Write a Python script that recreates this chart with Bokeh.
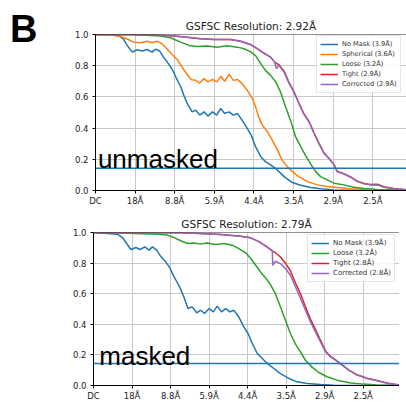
from bokeh.plotting import figure
from bokeh.layouts import column, row
from bokeh.models import FixedTicker, Span, Label, PrintfTickFormatter, Div
from bokeh.embed import file_html
from bokeh.resources import INLINE

# x positions are in "shell tick" units (0 = DC, 1 = 18Å, 2 = 8.8Å, ...)
x_ticks = [0, 1, 2, 3, 4, 5, 6, 7]
x_tick_labels = ["DC", "18Å", "8.8Å", "5.9Å", "4.4Å", "3.5Å", "2.9Å", "2.5Å"]
y_ticks = [0.0, 0.2, 0.4, 0.6, 0.8, 1.0]
threshold = 0.143
panel_letter = "B"

# ---------- top panel (unmasked) ----------
top_title = "GSFSC Resolution: 2.92Å"
top_tag = "unmasked"
top_labels = ["No Mask (3.9Å)", "Spherical (3.6Å)", "Loose (3.2Å)", "Tight (2.9Å)", "Corrected (2.9Å)"]

top_nomask_x = [0, 0.38, 0.59, 0.70, 0.80, 0.93, 1.05, 1.18, 1.30, 1.43, 1.52, 1.62, 1.73, 1.85, 1.96, 2.05,
                2.15, 2.23, 2.33, 2.44, 2.53, 2.63, 2.74, 2.84, 2.95, 3.06, 3.16, 3.26, 3.37, 3.48, 3.58, 3.70,
                3.83, 3.93, 4.04, 4.17, 4.29, 4.42, 4.59, 4.76, 4.97, 5.18, 5.43, 5.68, 6.02, 6.44, 6.86, 7.85]
top_nomask_y = [1.0, 0.998, 0.991, 0.972, 0.93, 0.887, 0.902, 0.894, 0.904, 0.887, 0.906, 0.894, 0.85, 0.81,
                0.765, 0.715, 0.665, 0.61, 0.55, 0.504, 0.515, 0.483, 0.504, 0.477, 0.504, 0.483, 0.526, 0.494,
                0.504, 0.483, 0.494, 0.451, 0.398, 0.355, 0.281, 0.217, 0.185, 0.164, 0.132, 0.089, 0.051,
                0.034, 0.019, 0.011, 0.004, 0.002, 0.0, 0.0]

top_sph_x = [0, 0.38, 0.63, 0.84, 0.97, 1.14, 1.30, 1.43, 1.56, 1.68, 1.81, 1.94, 2.06, 2.19, 2.31, 2.42, 2.53,
             2.63, 2.74, 2.84, 2.95, 3.06, 3.16, 3.26, 3.37, 3.48, 3.59, 3.70, 3.83, 3.96, 4.04, 4.12, 4.21, 4.34,
             4.46, 4.59, 4.71, 4.84, 4.97, 5.13, 5.35, 5.60, 5.85, 6.10, 6.44, 6.86, 7.28, 7.85]
top_sph_y = [1.0, 0.998, 0.987, 0.966, 0.951, 0.947, 0.957, 0.947, 0.957, 0.94, 0.905, 0.87, 0.84, 0.79, 0.745,
             0.71, 0.706, 0.689, 0.717, 0.696, 0.713, 0.696, 0.732, 0.70, 0.745, 0.706, 0.711, 0.685, 0.643, 0.589,
             0.536, 0.472, 0.419, 0.377, 0.323, 0.26, 0.196, 0.153, 0.121, 0.089, 0.057, 0.036, 0.026, 0.019,
             0.011, 0.004, 0.002, 0.0]

top_loose_x = [0, 0.97, 1.64, 1.89, 2.15, 2.36, 2.57, 2.82, 3.07, 3.32, 3.58, 3.75, 3.91, 4.04, 4.17, 4.29,
               4.42, 4.55, 4.67, 4.80, 4.92, 5.05, 5.18, 5.30, 5.43, 5.56, 5.68, 5.85, 6.02, 6.27, 6.52, 6.78,
               7.11, 7.85]
top_loose_y = [1.0, 0.998, 0.991, 0.979, 0.951, 0.93, 0.923, 0.926, 0.919, 0.928, 0.919, 0.909, 0.89, 0.865,
               0.813, 0.77, 0.738, 0.696, 0.632, 0.536, 0.451, 0.345, 0.281, 0.225, 0.17, 0.121, 0.089, 0.068,
               0.047, 0.036, 0.021, 0.013, 0.006, 0.002]

top_corr_x = [0, 1.39, 1.98, 2.31, 2.65, 2.99, 3.41, 3.66, 3.91, 4.08, 4.25, 4.42, 4.52, 4.57, 4.63, 4.76,
              4.88, 5.01, 5.13, 5.26, 5.39, 5.51, 5.64, 5.77, 5.89, 6.02, 6.10, 6.27, 6.44, 6.61, 6.78, 6.94,
              7.11, 7.28, 7.53, 7.85]
top_corr_y = [1.0, 1.0, 0.991, 0.983, 0.972, 0.968, 0.968, 0.957, 0.936, 0.909, 0.88, 0.855, 0.823, 0.781,
              0.802, 0.76, 0.69, 0.63, 0.56, 0.49, 0.44, 0.37, 0.30, 0.238, 0.206, 0.164, 0.121, 0.106, 0.085,
              0.057, 0.043, 0.036, 0.036, 0.021, 0.011, 0.004]
top_tight_x = top_corr_x
top_tight_y = [1.0, 1.0, 0.991, 0.983, 0.972, 0.968, 0.968, 0.957, 0.936, 0.909, 0.88, 0.855, 0.823, 0.815,
               0.806, 0.765, 0.695, 0.633, 0.562, 0.492, 0.442, 0.372, 0.302, 0.24, 0.207, 0.166, 0.123, 0.108,
               0.087, 0.06, 0.045, 0.039, 0.04, 0.024, 0.013, 0.004]

# ---------- bottom panel (masked) ----------
bot_title = "GSFSC Resolution: 2.79Å"
bot_tag = "masked"
bot_labels = ["No Mask (3.9Å)", "Loose (3.2Å)", "Tight (2.8Å)", "Corrected (2.8Å)"]

bot_nomask_x = [0, 0.36, 0.62, 0.75, 0.86, 0.97, 1.10, 1.21, 1.33, 1.44, 1.53, 1.64, 1.74, 1.87, 1.99, 2.07,
                2.18, 2.26, 2.35, 2.45, 2.56, 2.68, 2.78, 2.88, 3.00, 3.11, 3.21, 3.32, 3.43, 3.54, 3.64, 3.77,
                3.90, 4.01, 4.12, 4.25, 4.38, 4.51, 4.68, 4.85, 5.07, 5.28, 5.54, 5.89, 6.23, 7.94]
bot_nomask_y = [1.0, 0.993, 0.989, 0.967, 0.928, 0.889, 0.902, 0.889, 0.906, 0.885, 0.906, 0.885, 0.845, 0.81,
                0.765, 0.72, 0.67, 0.63, 0.575, 0.503, 0.514, 0.475, 0.492, 0.471, 0.503, 0.481, 0.519, 0.481,
                0.503, 0.481, 0.492, 0.449, 0.383, 0.34, 0.275, 0.209, 0.176, 0.144, 0.111, 0.078, 0.046, 0.024,
                0.013, 0.007, 0.002, 0.0]

bot_loose_x = [0, 0.62, 1.05, 1.66, 1.92, 2.09, 2.26, 2.44, 2.61, 2.78, 2.95, 3.17, 3.39, 3.60, 3.77, 3.95,
               4.08, 4.21, 4.34, 4.46, 4.59, 4.72, 4.85, 4.98, 5.11, 5.24, 5.37, 5.50, 5.67, 5.85, 6.06, 6.32,
               6.67, 7.01, 7.36, 7.94]
bot_loose_y = [1.0, 0.998, 0.993, 0.989, 0.983, 0.967, 0.946, 0.928, 0.932, 0.924, 0.932, 0.922, 0.928, 0.917,
               0.895, 0.867, 0.83, 0.786, 0.74, 0.705, 0.66, 0.6, 0.514, 0.427, 0.34, 0.27, 0.22, 0.165, 0.12,
               0.085, 0.057, 0.035, 0.017, 0.009, 0.004, 0.002]

bot_corr_x = [0, 2.26, 2.78, 3.30, 3.82, 4.08, 4.29, 4.51, 4.64, 4.65, 4.72, 4.85, 4.98, 5.11, 5.24, 5.37, 5.50,
              5.63, 5.76, 5.89, 6.02, 6.15, 6.28, 6.45, 6.62, 6.84, 7.10, 7.36, 7.62, 7.94]
bot_corr_y = [1.0, 0.998, 0.993, 0.987, 0.976, 0.965, 0.94, 0.905, 0.88, 0.786, 0.813, 0.797, 0.765, 0.721,
              0.645, 0.57, 0.492, 0.416, 0.351, 0.285, 0.22, 0.187, 0.166, 0.133, 0.10, 0.068, 0.046, 0.031,
              0.015, 0.002]
bot_tight_x = bot_corr_x
bot_tight_y = [1.0, 0.998, 0.993, 0.987, 0.976, 0.965, 0.94, 0.905, 0.88, 0.878, 0.868, 0.84, 0.80, 0.75,
               0.67, 0.60, 0.515, 0.435, 0.365, 0.295, 0.226, 0.19, 0.168, 0.135, 0.102, 0.07, 0.048, 0.033,
               0.017, 0.003]

COLORS = {"nomask": "#1f77b4", "sph": "#ff7f0e", "loose": "#2ca02c", "tight": "#d62728", "corr": "#9467bd"}
FONT = "DejaVu Sans"


def make_fig(width, height, left, top, bottom, xmax, title):
    p = figure(width=width, height=height, x_range=(0, xmax), y_range=(0, 1.0),
               output_backend="svg", toolbar_location=None, title=title,
               min_border_left=left, min_border_right=0, min_border_top=top, min_border_bottom=bottom)
    p.margin = 0
    p.title.align = "center"
    p.title.text_font = FONT
    p.title.text_font_size = "10.5px"
    p.title.text_font_style = "normal"
    p.title.text_color = "#222222"
    p.title.standoff = 5
    p.outline_line_color = None
    p.background_fill_color = "white"
    p.xaxis.ticker = FixedTicker(ticks=x_ticks)
    p.xaxis.major_label_overrides = {t: lab for t, lab in zip(x_ticks, x_tick_labels)}
    p.yaxis.ticker = FixedTicker(ticks=y_ticks)
    p.yaxis.formatter = PrintfTickFormatter(format="%.1f")
    for ax in (p.xaxis[0], p.yaxis[0]):
        ax.axis_line_color = "black"
        ax.axis_line_width = 1
        ax.major_tick_line_color = "black"
        ax.major_tick_out = 3
        ax.major_tick_in = 0
        ax.minor_tick_line_color = None
        ax.major_label_text_font = FONT
        ax.major_label_text_font_size = "8.5px"
        ax.major_label_text_color = "#222222"
    p.xaxis.major_label_standoff = 2
    p.yaxis.major_label_standoff = 4
    p.grid.grid_line_color = "#c8c8c8"
    p.grid.grid_line_width = 1
    p.add_layout(Span(location=1.0, dimension="width", line_color="#222222", line_width=1))
    p.add_layout(Span(location=threshold, dimension="width", line_color=COLORS["nomask"], line_width=1.5))
    return p


def style_legend(p, loc, size):
    lg = p.legend[0]
    lg.location = loc
    lg.label_text_font = FONT
    lg.label_text_font_size = size
    lg.label_text_color = "#333333"
    lg.glyph_width = 18
    lg.glyph_height = 10
    lg.label_height = 10
    lg.label_standoff = 4
    lg.spacing = 0
    lg.padding = 3
    lg.margin = 0
    lg.border_line_color = "#cccccc"
    lg.border_line_width = 1
    lg.background_fill_alpha = 0.85


# top figure
p1 = make_fig(366, 208, 55, 34, 18, 7.85, top_title)
p1.line(top_nomask_x, top_nomask_y, color=COLORS["nomask"], line_width=1.5, legend_label=top_labels[0])
p1.line(top_sph_x, top_sph_y, color=COLORS["sph"], line_width=1.5, legend_label=top_labels[1])
p1.line(top_loose_x, top_loose_y, color=COLORS["loose"], line_width=1.5, legend_label=top_labels[2])
p1.line(top_tight_x, top_tight_y, color=COLORS["tight"], line_width=1.5, legend_label=top_labels[3])
p1.line(top_corr_x, top_corr_y, color=COLORS["corr"], line_width=1.5, legend_label=top_labels[4])
style_legend(p1, (221, 97), "6.6px")
p1.add_layout(Label(x=0.06, y=0.2, text=top_tag, text_font="Liberation Sans", text_font_size="26px",
                    text_color="black", text_baseline="alphabetic"))

letter = Div(text=('<div style="font-family:\'Liberation Sans\',Arial,sans-serif;font-weight:bold;'
                   'font-size:38px;line-height:38px;margin-left:10px;margin-top:10px;color:black">'
                   + panel_letter + '</div>'), width=40, height=208, margin=0)

# bottom figure
p2 = make_fig(399, 195, 93, 24, 18, 7.94, bot_title)
p2.line(bot_nomask_x, bot_nomask_y, color=COLORS["nomask"], line_width=1.5, legend_label=bot_labels[0])
p2.line(bot_loose_x, bot_loose_y, color=COLORS["loose"], line_width=1.5, legend_label=bot_labels[1])
p2.line(bot_tight_x, bot_tight_y, color=COLORS["tight"], line_width=1.5, legend_label=bot_labels[2])
p2.line(bot_corr_x, bot_corr_y, color=COLORS["corr"], line_width=1.5, legend_label=bot_labels[3])
style_legend(p2, (214, 103), "7px")
p2.add_layout(Label(x=0.15, y=0.19, text=bot_tag, text_font="Liberation Sans", text_font_size="26px",
                    text_color="black", text_baseline="alphabetic"))

layout = column(row(letter, p1, spacing=0, margin=0), p2, spacing=0, margin=0)
open("out.html", "w").write(file_html(layout, INLINE))
